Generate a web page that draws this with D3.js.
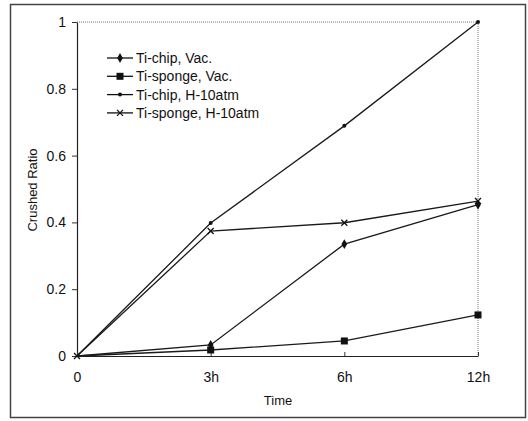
<!DOCTYPE html>
<html>
<head>
<meta charset="utf-8">
<script src="https://cdn.jsdelivr.net/npm/d3@7"></script>
<style>
  body { margin: 0; background: #fff; }
  text { font-family: "Liberation Sans", Arial, sans-serif; fill: #111; }
</style>
</head>
<body>
<div id="svg"></div>
<script>
var times = ["0", "3h", "6h", "12h"];
var tiChipVac = [0, 0.033, 0.335, 0.453];
var tiSpongeVac = [0, 0.018, 0.045, 0.123];
var tiChipH = [0, 0.398, 0.689, 1.0];
var tiSpongeH = [0, 0.374, 0.399, 0.464];
var yTicks = [0, 0.2, 0.4, 0.6, 0.8, 1];

var seriesNames = ["Ti-chip, Vac.", "Ti-sponge, Vac.", "Ti-chip, H-10atm", "Ti-sponge, H-10atm"];
var seriesValues = [tiChipVac, tiSpongeVac, tiChipH, tiSpongeH];
var seriesMarks = ["diamond", "square", "dot", "cross"];

var width = 528, height = 421;
var plotLeft = 77, plotRight = 478, plotTop = 22, plotBottom = 356;

var svg = d3.select("#svg").append("svg")
  .attr("width", width)
  .attr("height", height);

// outer frame
svg.append("rect")
  .attr("x", 10.5).attr("y", 4.5)
  .attr("width", 515).attr("height", 413)
  .attr("fill", "none")
  .attr("stroke", "#444")
  .attr("stroke-width", 1.5);

var x = d3.scalePoint().domain(times).range([plotLeft, plotRight]);
var y = d3.scaleLinear().domain([0, 1]).range([plotBottom, plotTop]);

// dotted top and right border
svg.append("line")
  .attr("x1", plotLeft).attr("x2", plotRight).attr("y1", plotTop).attr("y2", plotTop)
  .attr("stroke", "#777").attr("stroke-dasharray", "1,1");
svg.append("line")
  .attr("x1", plotRight).attr("x2", plotRight).attr("y1", plotTop).attr("y2", plotBottom)
  .attr("stroke", "#777").attr("stroke-dasharray", "1,1");

// y axis
var yAxis = svg.append("g")
  .attr("transform", "translate(" + plotLeft + ",0)")
  .call(d3.axisLeft(y).tickValues(yTicks).tickFormat(d3.format("")).tickSize(5).tickSizeOuter(0));
yAxis.select(".domain").attr("stroke", "#222").attr("stroke-width", 1.2);
yAxis.selectAll(".tick line").attr("stroke", "#333");
yAxis.selectAll(".tick text")
  .attr("x", -11)
  .style("font-size", "14px")
  .style("font-family", "Liberation Sans, Arial, sans-serif");

// x axis
var xAxis = svg.append("g")
  .attr("transform", "translate(0," + plotBottom + ")")
  .call(d3.axisBottom(x).tickSize(-4).tickSizeOuter(0));
xAxis.select(".domain").attr("stroke", "#222").attr("stroke-width", 1.2);
xAxis.selectAll(".tick line").attr("stroke", "#333");
xAxis.selectAll(".tick text")
  .attr("y", 16)
  .style("font-size", "14px")
  .style("font-family", "Liberation Sans, Arial, sans-serif");

svg.append("text")
  .attr("x", 278).attr("y", 405)
  .attr("text-anchor", "middle")
  .style("font-size", "13px")
  .text("Time");

svg.append("text")
  .attr("transform", "translate(37,190) rotate(-90)")
  .attr("text-anchor", "middle")
  .style("font-size", "13px")
  .text("Crushed Ratio");

function drawMark(g, kind, cx, cy) {
  if (kind == "diamond") {
    g.append("path").attr("d", d3.symbol().type(d3.symbolDiamond).size(28)())
      .attr("transform", "translate(" + cx + "," + cy + ")").attr("fill", "#111");
  } else if (kind == "square") {
    g.append("rect").attr("x", cx - 3.5).attr("y", cy - 3.5)
      .attr("width", 7).attr("height", 7).attr("fill", "#111");
  } else if (kind == "dot") {
    g.append("circle").attr("cx", cx).attr("cy", cy).attr("r", 2).attr("fill", "#111");
  } else {
    g.append("path").attr("d", "M-3,-3L3,3M-3,3L3,-3")
      .attr("transform", "translate(" + cx + "," + cy + ")")
      .attr("stroke", "#111").attr("stroke-width", 1.3).attr("fill", "none");
  }
}

var line = d3.line()
  .x(function(d, i) { return x(times[i]); })
  .y(function(d) { return y(d); });

seriesValues.forEach(function(vals, s) {
  svg.append("path")
    .datum(vals)
    .attr("d", line)
    .attr("fill", "none")
    .attr("stroke", "#1a1a1a")
    .attr("stroke-width", 1.3);
});

seriesValues.forEach(function(vals, s) {
  var g = svg.append("g");
  vals.forEach(function(v, i) {
    if (i == 0 && s != 3) return;
    drawMark(g, seriesMarks[s], x(times[i]), y(v));
  });
});

// legend
var legend = svg.append("g");
seriesNames.forEach(function(name, s) {
  var ly = 58 + s * 18.3;
  legend.append("line")
    .attr("x1", 107).attr("x2", 133).attr("y1", ly).attr("y2", ly)
    .attr("stroke", "#111").attr("stroke-width", 1.3);
  drawMark(legend, seriesMarks[s], 120, ly);
  legend.append("text")
    .attr("x", 136).attr("y", ly + 5)
    .style("font-size", "14px")
    .text(name);
});
</script>
</body>
</html>
